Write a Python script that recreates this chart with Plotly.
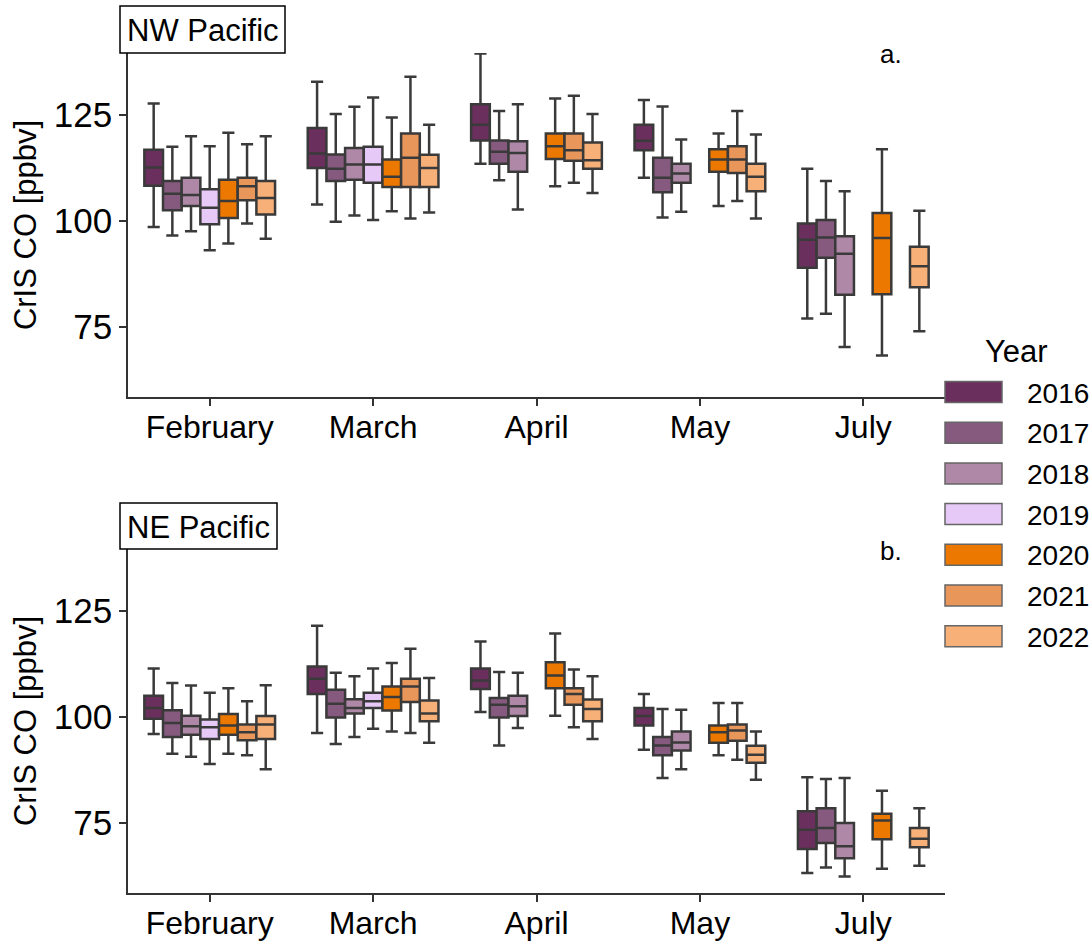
import plotly.graph_objects as go

months = ["February", "March", "April", "May", "July"]
years = ["2016", "2017", "2018", "2019", "2020", "2021", "2022"]
colors = ["#6b2f5d", "#855a7e", "#ae88a6", "#e6c9f7", "#ec7800", "#e9965a", "#f7b078"]
y_ticks = [75, 100, 125]

# NW Pacific (rows: years, cols: months; None = no data)
nw_lo = [[98.6, 103.9, 113.5, 110.2, 77.0],
         [96.6, 99.8, 109.6, 100.8, 78.1],
         [97.6, 101.3, 102.7, 102.2, 70.3],
         [93.1, 100.2, None, None, None],
         [94.7, 102.3, 108.2, 103.5, 68.3],
         [99.4, 100.6, 109.0, 104.7, None],
         [95.8, 102.0, 106.6, 100.6, 74.0]]
nw_q1 = [[108.3, 112.5, 119.0, 116.7, 89.0],
         [102.5, 109.4, 113.5, 106.8, 91.3],
         [103.5, 109.7, 111.6, 109.0, 82.6],
         [99.2, 109.0, None, None, None],
         [100.7, 108.0, 114.6, 111.6, 82.7],
         [104.9, 108.0, 114.2, 111.3, None],
         [101.5, 108.0, 112.3, 107.0, 84.4]]
nw_med = [[112.6, 115.9, 122.7, 118.9, 95.6],
          [106.4, 112.3, 116.3, 110.2, 96.1],
          [106.1, 113.3, 116.0, 111.2, 92.3],
          [103.1, 113.3, None, None, None],
          [104.7, 110.4, 117.6, 114.5, 96.0],
          [108.2, 114.9, 116.7, 114.5, None],
          [105.4, 112.5, 114.3, 110.4, 89.3]]
nw_q3 = [[116.8, 121.9, 127.5, 122.7, 99.4],
         [109.4, 115.7, 119.0, 114.9, 100.2],
         [110.2, 117.2, 118.8, 113.5, 96.4],
         [107.5, 117.5, None, None, None],
         [109.7, 114.5, 120.6, 116.9, 101.9],
         [110.2, 120.6, 120.6, 117.6, None],
         [109.4, 115.6, 118.5, 113.5, 93.9]]
nw_hi = [[127.7, 132.8, 139.5, 128.5, 112.3],
         [117.5, 125.2, 125.9, 127.0, 109.4],
         [120.0, 126.9, 127.5, 119.2, 107.0],
         [117.6, 129.1, None, None, None],
         [120.8, 124.4, 128.9, 120.6, 116.9],
         [118.1, 134.0, 129.5, 125.9, None],
         [120.0, 122.7, 125.2, 120.4, 102.4]]

# NE Pacific
ne_lo = [[96.0, 96.2, 101.2, 92.3, 63.2],
         [91.3, 93.6, 93.3, 85.6, 64.5],
         [90.6, 95.3, 97.4, 87.7, 62.4],
         [88.9, 97.2, None, None, None],
         [91.3, 96.6, 100.3, 91.0, 64.2],
         [91.0, 96.2, 97.6, 89.9, None],
         [87.7, 93.9, 94.8, 85.2, 64.9]]
ne_q1 = [[99.6, 105.4, 106.6, 98.0, 68.9],
         [95.3, 99.9, 99.9, 91.0, 70.3],
         [95.8, 100.8, 100.2, 92.1, 66.7],
         [94.8, 102.1, None, None, None],
         [95.8, 101.5, 106.8, 93.9, 71.2],
         [94.5, 103.5, 102.9, 94.4, None],
         [94.8, 99.0, 99.0, 89.2, 69.3]]
ne_med = [[102.1, 109.0, 108.6, 100.2, 73.4],
          [98.6, 103.1, 102.9, 93.3, 73.8],
          [97.8, 102.1, 102.5, 94.0, 69.5],
          [97.6, 103.7, None, None, None],
          [98.0, 104.7, 109.8, 96.4, 75.6],
          [96.4, 107.2, 105.4, 96.8, None],
          [98.2, 100.8, 101.9, 91.1, 71.3]]
ne_q3 = [[105.0, 111.9, 111.4, 102.1, 77.8],
         [101.6, 106.4, 104.5, 95.3, 78.5],
         [100.3, 104.2, 105.0, 96.6, 75.0],
         [99.4, 105.7, None, None, None],
         [100.7, 107.2, 112.9, 98.0, 77.2],
         [98.2, 109.0, 106.8, 98.2, None],
         [100.2, 103.9, 104.1, 93.2, 73.8]]
ne_hi = [[111.4, 121.5, 117.8, 105.4, 85.8],
         [108.0, 110.4, 110.6, 101.9, 85.4],
         [107.4, 109.6, 110.4, 101.7, 85.6],
         [105.7, 111.4, None, None, None],
         [106.8, 112.7, 119.7, 103.3, 82.6],
         [103.7, 116.1, 111.2, 103.3, None],
         [107.5, 109.2, 109.6, 96.6, 78.5]]

W, H = 1092, 942
FONT = "Liberation Sans"
EDGE = "#3a3a3a"


def px(x):
    return x / W


def py(y):
    return 1 - y / H


fig = go.Figure()

regions = [
    ("x", "y", nw_lo, nw_q1, nw_med, nw_q3, nw_hi),
    ("x2", "y2", ne_lo, ne_q1, ne_med, ne_q3, ne_hi),
]
for xa, ya, lo, q1, med, q3, hi in regions:
    for i, yr in enumerate(years):
        idx = [j for j in range(len(months)) if med[i][j] is not None]
        fig.add_trace(go.Box(
            x=[months[j] for j in idx],
            q1=[q1[i][j] for j in idx],
            median=[med[i][j] for j in idx],
            q3=[q3[i][j] for j in idx],
            lowerfence=[lo[i][j] for j in idx],
            upperfence=[hi[i][j] for j in idx],
            name=yr,
            offsetgroup=yr,
            alignmentgroup=xa,
            showlegend=False,
            boxpoints=False,
            fillcolor=colors[i],
            line=dict(color=EDGE, width=2.5),
            whiskerwidth=0.65,
            xaxis=xa, yaxis=ya,
        ))

axis_common = dict(
    showline=True, linecolor="#333333", linewidth=1.5,
    ticks="outside", tickcolor="#333333", ticklen=7, tickwidth=1.5,
    showgrid=False, zeroline=False,
)
xdom = [px(128), px(945)]
xaxis_cfg = dict(type="category", categoryorder="array", categoryarray=months,
                 range=[-0.5, 4.5], tickfont=dict(size=32), ticklabelstandoff=-6,
                 **axis_common)
yaxis_cfg = dict(range=[58.5, 139.6], tickvals=y_ticks, tickfont=dict(size=35),
                 ticklabelstandoff=0,
                 title=dict(text="CrIS CO [ppbv]", font=dict(size=31), standoff=8),
                 **axis_common)
fig.update_layout(
    width=W, height=H,
    margin=dict(l=0, r=0, t=0, b=0),
    paper_bgcolor="white", plot_bgcolor="white",
    boxmode="group", boxgap=0.2, boxgroupgap=0.0,
    font=dict(family=FONT, color="black"),
    xaxis=dict(domain=xdom, anchor="y", **xaxis_cfg),
    yaxis=dict(domain=[py(397), py(53)], anchor="x", **yaxis_cfg),
    xaxis2=dict(domain=xdom, anchor="y2", **xaxis_cfg),
    yaxis2=dict(domain=[py(893), py(549)], anchor="x2", **yaxis_cfg),
)

shapes = []
annotations = []

# Panel title boxes
for (x0, x1, y0, y1, text) in [(120, 285, 6, 53, "NW Pacific"), (120, 277, 503, 549, "NE Pacific")]:
    shapes.append(dict(type="rect", xref="paper", yref="paper",
                       x0=px(x0), x1=px(x1), y0=py(y1), y1=py(y0),
                       line=dict(color="black", width=1.5), fillcolor="white", layer="above"))
    annotations.append(dict(xref="paper", yref="paper", x=px((x0 + x1) / 2), y=py((y0 + y1) / 2 + 1),
                            text=text, showarrow=False, font=dict(size=31),
                            xanchor="center", yanchor="middle"))

# Panel letters
annotations.append(dict(xref="paper", yref="paper", x=px(891), y=py(54), text="a.",
                        showarrow=False, font=dict(size=26), xanchor="center", yanchor="middle"))
annotations.append(dict(xref="paper", yref="paper", x=px(891), y=py(551), text="b.",
                        showarrow=False, font=dict(size=26), xanchor="center", yanchor="middle"))

# Legend
annotations.append(dict(xref="paper", yref="paper", x=px(1016), y=py(352), text="Year",
                        showarrow=False, font=dict(size=31), xanchor="center", yanchor="middle"))
for i, yr in enumerate(years):
    cy = 392 + i * 40.7
    shapes.append(dict(type="rect", xref="paper", yref="paper",
                       x0=px(945), x1=px(1002), y0=py(cy + 10.5), y1=py(cy - 10.5),
                       line=dict(color="#666666", width=1.5), fillcolor=colors[i], layer="above"))
    annotations.append(dict(xref="paper", yref="paper", x=px(1025), y=py(cy + 1), text=yr,
                            showarrow=False, font=dict(size=28), xanchor="left", yanchor="middle"))

fig.update_layout(shapes=shapes, annotations=annotations)
fig.write_html("out.html")
